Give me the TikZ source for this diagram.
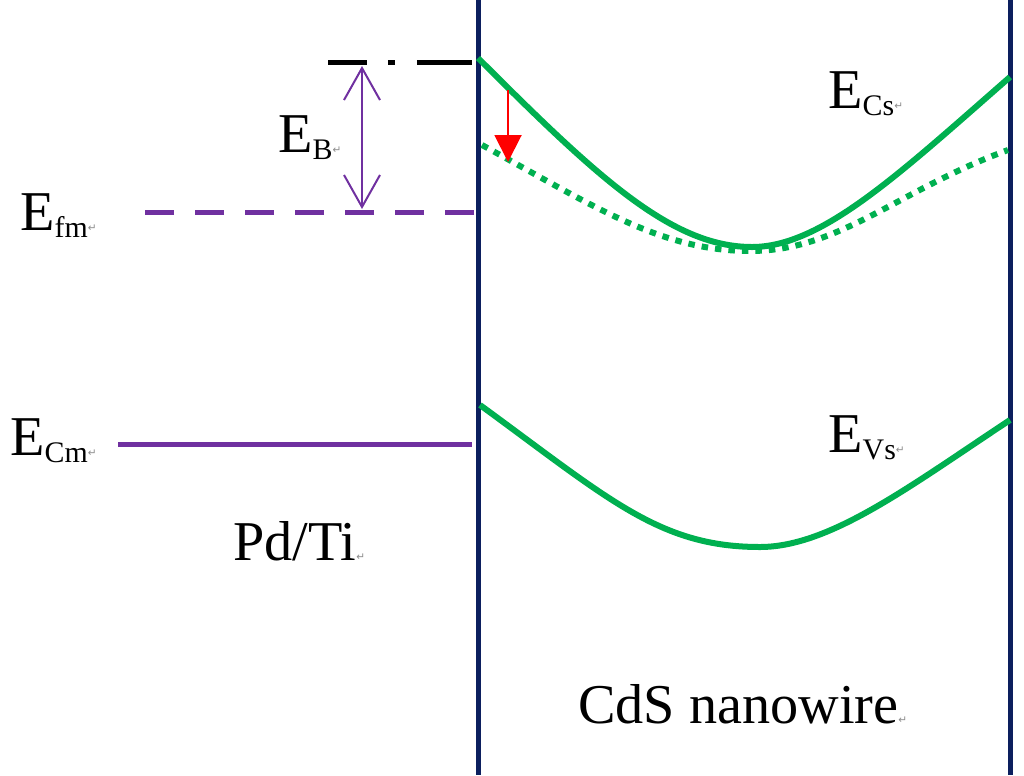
\documentclass[tikz,border=0pt]{standalone}
\usepackage{fontspec}
\setmainfont{Liberation Serif}
\newfontfamily\symfont{DejaVu Sans}
\usetikzlibrary{arrows.meta}

\definecolor{wallblue}{HTML}{0C1F5E}
\definecolor{bandgreen}{HTML}{00B050}
\definecolor{metalpurple}{HTML}{7030A0}

% small return mark and band label
\newcommand{\retmark}{{\fontsize{6}{6}\symfont\color{black!45}↵}}
\newcommand{\bandlbl}[1]{E\raisebox{-4pt}{\fontsize{17}{17}\selectfont #1\raisebox{3pt}{\retmark}}}

\begin{document}
\begin{tikzpicture}[
    x=0.02cm, y=-0.02cm,
    wall/.style={wallblue, line width=0.1cm},
    level/.style={metalpurple, line width=0.1cm},
    band/.style={bandgreen, line width=0.12cm, line join=round},
    lbl/.style={inner sep=0pt, anchor=base west, font=\fontsize{32}{36}\selectfont}
]
\useasboundingbox (0,0) rectangle (1024,775);

% interface and wire end
\coordinate (wl1) at (478,0);
\coordinate (wl2) at (478,775);
\coordinate (wr1) at (1010,0);
\coordinate (wr2) at (1010,775);
\draw[wall] (wl1) -- (wl2);
\draw[wall] (wr1) -- (wr2);

% metal levels
\coordinate (top1) at (328,62);
\coordinate (top2) at (472,62);
\coordinate (fm1) at (145,212);
\coordinate (fm2) at (474,212);
\coordinate (cm1) at (118,444);
\coordinate (cm2) at (472,444);
\draw[black, line width=0.1cm, dash pattern=on 0.78cm off 0.42cm on 0.14cm off 0.44cm on 1.1cm] (top1) -- (top2);
\draw[level, dash pattern=on 0.58cm off 0.42cm] (fm2) -- (fm1);
\draw[level] (cm1) -- (cm2);

% barrier height
\coordinate (eb1) at (362,66);
\coordinate (eb2) at (362,209);
\draw[metalpurple, line width=0.04cm, {Straight Barb[length=6.4mm,width=7.2mm]}-{Straight Barb[length=6.4mm,width=7.2mm]}] (eb1) -- (eb2);

% CdS bands
\coordinate (ec0) at (478,58);
\coordinate (ecm) at (752,247);
\coordinate (ec1) at (1010,77);
\draw[band] (ec0) .. controls (598,178) and (672,247) .. (ecm)
    .. controls (822,247) and (900,173) .. (ec1);
\coordinate (ed0) at (482,145);
\coordinate (edm) at (750,251);
\coordinate (ed1) at (1008,150);
\draw[band, dash pattern=on 0.13cm off 0.14cm] (ed0) .. controls (592,205) and (660,251) .. (edm)
    .. controls (840,251) and (898,190) .. (ed1);
\coordinate (ev0) at (480,405);
\coordinate (evm) at (760,547);
\coordinate (ev1) at (1010,420);
\draw[band] (ev0) .. controls (610,500) and (660,547) .. (evm)
    .. controls (830,547) and (910,486) .. (ev1);

% lowering of the band
\coordinate (dn1) at (508,90);
\coordinate (dn2) at (508,162);
\draw[red, line width=0.04cm, -{Triangle[length=5.4mm,width=5.4mm]}] (dn1) -- (dn2);

% labels
\node[lbl] (lEB) at (278,152) {\bandlbl{B}};
\node[lbl] (lEfm) at (20,230) {\bandlbl{fm}};
\node[lbl] (lECm) at (10,455) {\bandlbl{Cm}};
\node[lbl] (lECs) at (828,108) {\bandlbl{Cs}};
\node[lbl] (lEVs) at (828,452) {\bandlbl{Vs}};
\node[lbl] (lmetal) at (233,560) {Pd/Ti\retmark};
\node[lbl] (lwire) at (578,723) {CdS nanowire\retmark};

\end{tikzpicture}
\end{document}
